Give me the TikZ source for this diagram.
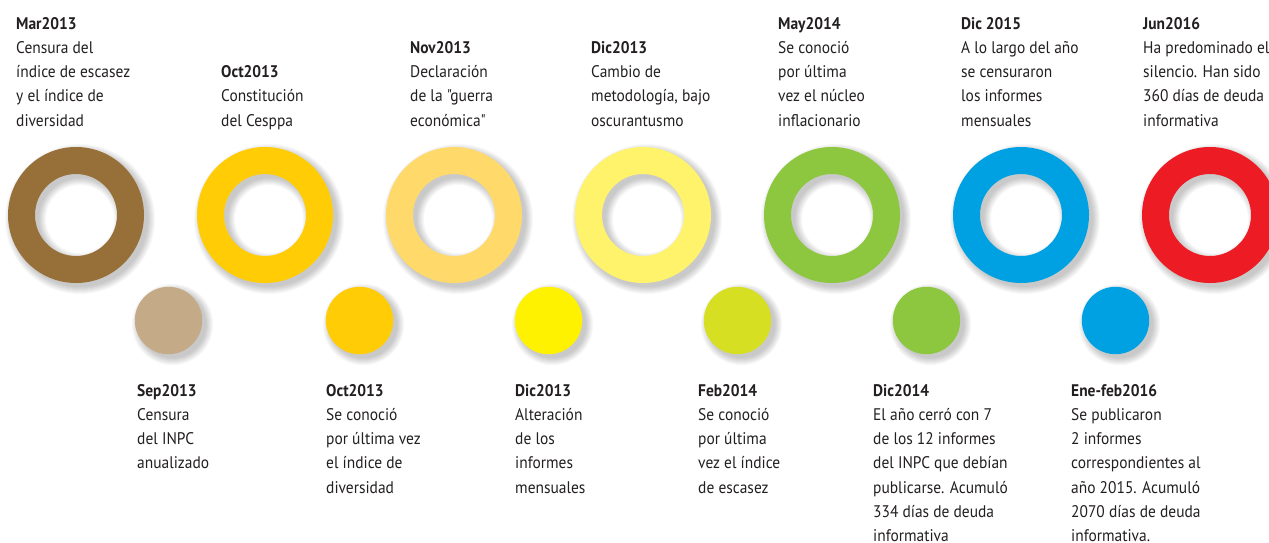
\documentclass[tikz,border=0pt]{standalone}
\usepackage{fontspec}
\setmainfont{PT Sans}[Ligatures=TeXOff, FakeStretch=0.92]
\definecolor{txtc}{HTML}{231F20}
\definecolor{cbrown}{HTML}{976F38}
\definecolor{cyel}{HTML}{FFCC05}
\definecolor{corg}{HTML}{FFD96A}
\definecolor{clyel}{HTML}{FFF36B}
\definecolor{cgreen}{HTML}{8DC63F}
\definecolor{cblue}{HTML}{00A1E3}
\definecolor{cred}{HTML}{ED1C24}
\definecolor{ctan}{HTML}{C4AA87}
\definecolor{cbyel}{HTML}{FFF200}
\definecolor{clime}{HTML}{D7DF23}
\newcommand{\myring}[3]{% name, x, color
  \foreach \k in {0,1,2,3,4,5,6,7}{
    \fill[black, opacity=0.028, even odd rule] (#2+4,219) circle[radius=68+\k*1.0] (#2+4,219) circle[radius=41-\k*1.0];
  }
  \fill[#3, even odd rule] (#2,215) circle[radius=68] (#2,215) circle[radius=41];
  \coordinate (#1) at (#2,215);
}
\newcommand{\mydot}[3]{% name, x, color
  \foreach \k in {0,1,2,3,4,5,6,7}{
    \fill[black, opacity=0.028] (#2+4,324.5) circle[radius=33.7+\k*1.0];
  }
  \fill[#3] (#2,320.5) circle[radius=33.7];
  \coordinate (#1) at (#2,320.5);
}
\begin{document}
\begin{tikzpicture}[x=1pt,y=-1pt,
  lbl/.style={anchor=base west, inner sep=0pt, text=txtc, font=\fontsize{16.8}{24.25}\selectfont}]
\useasboundingbox (0,0) rectangle (1269,542);
\fill[white] (0,0) rectangle (1269,542);
% rings
\myring{r1}{76}{cbrown}
\myring{r2}{265}{cyel}
\myring{r3}{454}{corg}
\myring{r4}{643}{clyel}
\myring{r5}{832}{cgreen}
\myring{r6}{1021}{cblue}
\myring{r7}{1210}{cred}
% dots
\mydot{d1}{168.5}{ctan}
\mydot{d2}{359.5}{cyel}
\mydot{d3}{548.5}{cbyel}
\mydot{d4}{737.5}{clime}
\mydot{d5}{926.5}{cgreen}
\mydot{d6}{1115.5}{cblue}
% top labels
\node[lbl] (t1) at (16,29) {\begin{tabular}[t]{@{}l@{}}\textbf{Mar2013}\\Censura del\\índice de escasez\\y el índice de\\diversidad\end{tabular}};
\node[lbl] (t2) at (221,77.5) {\begin{tabular}[t]{@{}l@{}}\textbf{Oct2013}\\Constitución\\del Cesppa\end{tabular}};
\node[lbl] (t3) at (410,53.25) {\begin{tabular}[t]{@{}l@{}}\textbf{Nov2013}\\Declaración\\de la "guerra\\económica"\end{tabular}};
\node[lbl] (t4) at (591,53.25) {\begin{tabular}[t]{@{}l@{}}\textbf{Dic2013}\\Cambio de\\metodología, bajo\\oscurantusmo\end{tabular}};
\node[lbl] (t5) at (778,29) {\begin{tabular}[t]{@{}l@{}}\textbf{May2014}\\Se conoció\\por última\\vez el núcleo\\inflacionario\end{tabular}};
\node[lbl] (t6) at (961,29) {\begin{tabular}[t]{@{}l@{}}\textbf{Dic 2015}\\A lo largo del año\\se censuraron\\los informes\\mensuales\end{tabular}};
\node[lbl] (t7) at (1143,29) {\begin{tabular}[t]{@{}l@{}}\textbf{Jun2016}\\Ha predominado el\\silencio. Han sido\\360 días de deuda\\informativa\end{tabular}};
% bottom labels
\node[lbl] (b1) at (137,396) {\begin{tabular}[t]{@{}l@{}}\textbf{Sep2013}\\Censura\\del INPC\\anualizado\end{tabular}};
\node[lbl] (b2) at (326,396) {\begin{tabular}[t]{@{}l@{}}\textbf{Oct2013}\\Se conoció\\por última vez\\el índice de\\diversidad\end{tabular}};
\node[lbl] (b3) at (515,396) {\begin{tabular}[t]{@{}l@{}}\textbf{Dic2013}\\Alteración\\de los\\informes\\mensuales\end{tabular}};
\node[lbl] (b4) at (698,396) {\begin{tabular}[t]{@{}l@{}}\textbf{Feb2014}\\Se conoció\\por última\\vez el índice\\de escasez\end{tabular}};
\node[lbl] (b5) at (873,396) {\begin{tabular}[t]{@{}l@{}}\textbf{Dic2014}\\El año cerró con 7\\de los 12 informes\\del INPC que debían\\publicarse. Acumuló\\334 días de deuda\\informativa\end{tabular}};
\node[lbl] (b6) at (1071,396) {\begin{tabular}[t]{@{}l@{}}\textbf{Ene-feb2016}\\Se publicaron\\2 informes\\correspondientes al\\año 2015. Acumuló\\2070 días de deuda\\informativa.\end{tabular}};
\end{tikzpicture}
\end{document}
